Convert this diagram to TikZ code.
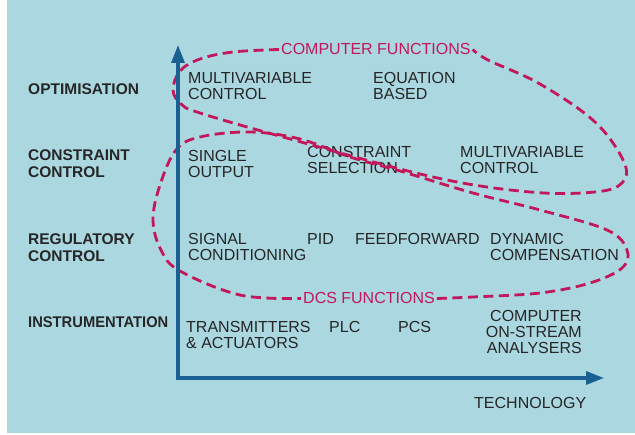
\documentclass[tikz,border=0pt]{standalone}
\usepackage{fontspec}
\setmainfont{Liberation Sans}
\usetikzlibrary{arrows.meta}
\definecolor{bg}{HTML}{AAD7E0}
\definecolor{axiscol}{HTML}{1B6093}
\definecolor{mag}{HTML}{C2185B}
\definecolor{ink}{HTML}{262626}
\newcommand\mlines[1]{\begin{tabular}[t]{@{}l@{}}#1\end{tabular}}
\newcommand\mrlines[1]{\begin{tabular}[t]{@{}r@{}}#1\end{tabular}}
\begin{document}
\begin{tikzpicture}[x=1pt,y=-1pt,
  lvl/.style={anchor=base west,inner sep=0pt,text=ink,font=\bfseries\fontsize{15.5}{17}\selectfont},
  item/.style={anchor=base west,inner sep=0pt,text=ink,font=\fontsize{16}{16}\selectfont},
  fn/.style={anchor=base west,inner sep=2pt,text=mag,font=\fontsize{16}{16}\selectfont},
  fnloop/.style={draw=mag,line width=2.8pt,dash pattern=on 10pt off 5.5pt},
  axisline/.style={draw=axiscol,line width=3.2pt,line join=miter,{Triangle[length=18pt,width=13pt]}-{Triangle[length=18pt,width=13pt]}}]
\useasboundingbox (0,0) rectangle (635,435);
\fill[white] (0,0) rectangle (635,435);
\fill[bg] (7,0) rectangle (635,433);
% level labels
\node[lvl] (opt) at (28,95) {OPTIMISATION};
\node[lvl] (con) at (28,161) {\mlines{CONSTRAINT\\CONTROL}};
\node[lvl] (reg) at (28,245) {\mlines{REGULATORY\\CONTROL}};
\node[lvl] (ins) at (28,328) {\scalebox{0.95}[1]{INSTRUMENTATION}};
% items
\node[item] (mv1) at (188,84) {\mlines{MULTIVARIABLE\\CONTROL}};
\node[item] (eq) at (373,84) {\mlines{EQUATION\\BASED}};
\node[item] (so) at (188,162) {\mlines{SINGLE\\OUTPUT}};
\node[item] (cs) at (307,158) {\mlines{CONSTRAINT\\SELECTION}};
\node[item] (mv2) at (460,158) {\mlines{MULTIVARIABLE\\CONTROL}};
\node[item] (sc) at (188,245) {\mlines{SIGNAL\\CONDITIONING}};
\node[item] (pid) at (307,245) {PID};
\node[item] (ff) at (355,245) {FEEDFORWARD};
\node[item] (dc) at (490,245) {\mlines{DYNAMIC\\COMPENSATION}};
\node[item] (tr) at (186,333) {\mlines{TRANSMITTERS\\\& ACTUATORS}};
\node[item] (plc) at (329,333) {PLC};
\node[item] (pcs) at (398,333) {PCS};
\node[item,anchor=base east] (ana) at (582,322) {\mrlines{COMPUTER\\ON-STREAM\\ANALYSERS}};
\node[item] (tech) at (474,409) {TECHNOLOGY};
\node[fn] (cf) at (279,55) {COMPUTER FUNCTIONS};
\node[fn] (dcs) at (301,304) {DCS FUNCTIONS};
% dashed function loops
\draw[fnloop] plot[smooth,tension=0.6] coordinates {(cf.west) (233,52) (200,59) (180,71) (173,90) (181,104) (200,113) (283,137) (433,177) (530,192) (595,192) (622,183) (624,162) (595,122) (540,84) (488,60) (cf.east)};
\draw[fnloop] plot[smooth,tension=0.6] coordinates {(dcs.east) (473,297) (540,293) (590,283) (622,268) (627,250) (607,230) (540,210) (473,193) (400,171) (350,157) (300,139) (250,132) (200,137) (176,150) (160,185) (153,220) (161,250) (180,271) (240,295) (dcs.west)};
% axes
\coordinate (O) at (178,378);
\coordinate (ytip) at (178,45);
\coordinate (xtip) at (604,378);
\draw[axisline] (ytip) -- (O) -- (xtip);
\end{tikzpicture}
\end{document}
